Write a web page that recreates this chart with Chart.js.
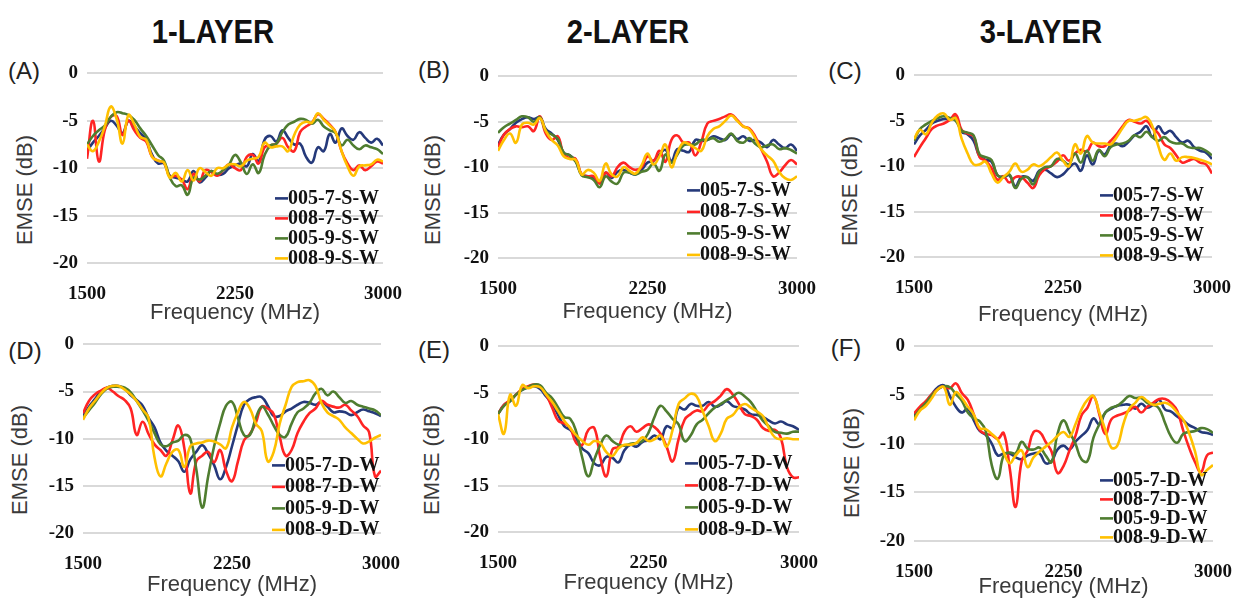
<!DOCTYPE html>
<html>
<head>
<meta charset="utf-8">
<script src="https://cdn.jsdelivr.net/npm/chart.js@4.4.1/dist/chart.umd.min.js"></script>
<style>
  body { margin: 0; width: 1239px; height: 601px; overflow: hidden; background: #fff; position: relative;
         font-family: "Liberation Sans", Arial, sans-serif; }
  .hdr { position: absolute; font: bold 34px "Liberation Sans", Arial, sans-serif;
         color: #111; transform: translate(-50%, -50%) scaleX(0.86); white-space: nowrap; }
  .tag { position: absolute; font-size: 24px; color: #222; transform: translate(-50%, -50%); }
  .ytitle { position: absolute; font-size: 22px; color: #3a3a3a; white-space: nowrap;
            transform: translate(-50%, -50%) rotate(-90deg); }
  canvas { position: absolute; }
</style>
</head>
<body>
<div class="hdr" style="left:213px;top:31px">1-LAYER</div>
<div class="hdr" style="left:628px;top:31px">2-LAYER</div>
<div class="hdr" style="left:1041px;top:31px">3-LAYER</div>

<div class="tag" style="left:24px;top:71px">(A)</div>
<div class="tag" style="left:434px;top:70px">(B)</div>
<div class="tag" style="left:845px;top:71px">(C)</div>
<div class="tag" style="left:25px;top:351px">(D)</div>
<div class="tag" style="left:434px;top:350px">(E)</div>
<div class="tag" style="left:846px;top:348px">(F)</div>

<div class="ytitle" style="left:25px;top:190px">EMSE (dB)</div>
<div class="ytitle" style="left:433px;top:190px">EMSE (dB)</div>
<div class="ytitle" style="left:850px;top:191px">EMSE (dB)</div>
<div class="ytitle" style="left:20px;top:460px">EMSE (dB)</div>
<div class="ytitle" style="left:432px;top:460px">EMSE (dB)</div>
<div class="ytitle" style="left:852px;top:463px">EMSE (dB)</div>

<script>
// frequency points (MHz)
const FREQ = [1500,1530,1560,1590,1620,1650,1680,1710,1740,1770,
  1800,1830,1860,1890,1920,1950,1980,2010,2040,2070,
  2100,2130,2160,2190,2220,2250,2280,2310,2340,2370,
  2400,2430,2460,2490,2520,2550,2580,2610,2640,2670,
  2700,2730,2760,2790,2820,2850,2880,2910,2940,2970,3000];

const LABELS_S = ["005-7-S-W", "008-7-S-W", "005-9-S-W", "008-9-S-W"];
const LABELS_D = ["005-7-D-W", "008-7-D-W", "005-9-D-W", "008-9-D-W"];
const COLORS = ["#25397a", "#ff2424", "#4f7d30", "#ffc000"];

// (A) 1-layer, S-W
const A_005_7 = [-8.2,-7.3,-6.6,-5.8,-5.0,-5.5,-6.3,-5.0,-5.6,-6.3, -7.0,-8.6,-9.5,-9.5,-10.8,-11.0,-11.2,-11.4,-10.3,-11.5,
  -11.0,-10.3,-10.7,-10.6,-10.0,-9.7,-9.5,-9.8,-8.5,-9.3, -7.0,-6.6,-7.2,-6.0,-6.8,-7.5,-7.4,-8.8,-9.4,-7.8,
  -8.2,-6.4,-7.3,-5.8,-6.6,-7.0,-6.2,-6.8,-7.3,-6.9, -7.6];
const A_008_7 = [-9.0,-5.0,-9.3,-6.0,-4.6,-4.5,-6.5,-5.0,-6.0,-6.8, -7.2,-8.8,-9.2,-9.4,-10.9,-10.8,-11.2,-12.2,-10.6,-11.4,
  -10.2,-10.4,-10.8,-10.2,-9.6,-10.0,-10.2,-8.8,-8.6,-9.5, -7.8,-7.6,-7.4,-6.8,-7.8,-8.2,-6.2,-5.6,-5.2,-4.3,
  -4.8,-5.4,-6.2,-8.2,-9.5,-10.2,-9.7,-10.2,-9.8,-9.3, -9.5];
const A_005_9 = [-7.5,-6.6,-6.0,-5.5,-4.6,-4.1,-4.2,-4.4,-4.9,-5.8, -6.6,-7.6,-8.6,-9.2,-11.0,-11.9,-11.8,-12.8,-11.0,-11.2,
  -10.8,-10.3,-10.6,-10.2,-9.6,-8.6,-9.4,-10.6,-9.6,-10.5, -8.6,-7.6,-7.4,-6.2,-5.4,-5.1,-4.8,-4.9,-5.3,-4.9,
  -5.6,-6.0,-6.3,-7.6,-7.0,-7.6,-8.0,-7.6,-7.8,-8.0, -8.5];
const A_008_9 = [-7.5,-8.2,-7.2,-5.6,-3.5,-4.8,-7.4,-4.4,-5.4,-6.7, -7.0,-8.8,-9.2,-9.4,-11.0,-10.5,-11.4,-10.2,-11.3,-10.0,
  -10.4,-10.8,-10.0,-10.0,-9.6,-9.6,-9.8,-9.2,-9.0,-8.8, -7.3,-7.8,-7.7,-7.7,-8.2,-6.5,-5.4,-5.1,-5.2,-4.2,
  -4.9,-5.5,-6.2,-8.2,-9.8,-10.8,-9.8,-9.7,-9.6,-9.1, -9.3];

// (B) 2-layer, S-W
const B_005_7 = [-7.5,-6.4,-5.8,-5.1,-4.7,-4.5,-4.7,-4.5,-5.8,-6.3, -7.0,-8.4,-8.7,-9.3,-10.8,-11.0,-11.2,-11.6,-10.6,-11.2,
  -10.5,-10.3,-10.6,-10.8,-10.3,-9.5,-9.3,-8.6,-8.1,-9.3, -8.0,-8.2,-8.3,-7.0,-7.1,-7.0,-6.6,-6.8,-7.0,-6.4,
  -6.9,-6.6,-7.1,-7.0,-7.3,-7.8,-7.0,-7.5,-7.9,-7.5, -8.2];
const B_008_7 = [-7.8,-6.4,-5.8,-5.5,-5.6,-5.5,-6.0,-4.4,-6.3,-7.0, -6.6,-8.6,-9.0,-9.1,-10.8,-11.0,-11.0,-11.8,-10.6,-11.0,
  -10.0,-9.5,-10.0,-10.3,-10.0,-8.8,-9.3,-8.2,-9.4,-7.0, -6.5,-7.3,-7.3,-8.7,-7.2,-5.2,-4.9,-4.7,-4.4,-4.2,
  -4.8,-5.5,-5.7,-6.6,-8.0,-9.4,-11.0,-10.6,-9.8,-9.2, -9.7];
const B_005_9 = [-6.2,-5.6,-5.2,-4.8,-4.4,-4.5,-5.0,-4.5,-6.0,-6.4, -6.9,-8.4,-8.7,-9.4,-10.9,-11.1,-11.4,-12.2,-11.0,-11.6,
  -11.8,-10.6,-10.6,-10.8,-10.5,-10.3,-9.6,-10.4,-8.6,-9.5, -8.6,-7.6,-7.5,-7.5,-7.0,-7.0,-6.8,-7.2,-6.9,-6.3,
  -7.1,-7.3,-6.8,-7.4,-7.8,-7.6,-7.5,-8.0,-7.9,-8.1, -8.5];
const B_008_9 = [-8.2,-7.0,-6.3,-7.3,-5.3,-5.1,-5.3,-4.6,-6.0,-7.0, -7.6,-8.8,-9.1,-9.2,-10.8,-10.3,-10.6,-11.5,-9.6,-10.8,
  -11.0,-10.0,-10.4,-10.7,-9.8,-8.5,-9.7,-8.8,-7.5,-10.0, -8.4,-7.3,-7.5,-7.9,-8.2,-6.6,-5.8,-5.5,-4.9,-4.3,
  -4.9,-5.5,-5.8,-6.8,-8.0,-8.7,-9.3,-10.5,-11.2,-11.4, -11.0];

// (C) 3-layer, S-W
const C_005_7 = [-7.6,-6.6,-6.0,-5.3,-5.0,-4.8,-4.8,-4.6,-6.2,-6.5, -7.2,-8.9,-9.3,-9.5,-11.0,-11.2,-11.0,-12.2,-11.2,-11.2,
  -11.6,-10.5,-10.4,-10.8,-11.2,-10.9,-10.2,-9.7,-10.5,-8.8, -9.8,-8.3,-8.7,-7.7,-7.5,-7.8,-7.3,-6.6,-6.2,-5.6,
  -6.8,-5.6,-6.4,-6.1,-6.8,-7.4,-7.2,-7.9,-8.3,-8.5, -9.2];
const C_008_7 = [-9.0,-7.9,-6.9,-5.9,-5.5,-5.3,-4.9,-4.3,-6.0,-6.4, -6.7,-9.0,-9.4,-10.2,-11.5,-11.1,-11.8,-11.2,-11.2,-11.8,
  -12.4,-11.0,-10.3,-10.0,-9.5,-8.8,-9.4,-8.6,-8.2,-8.4, -7.4,-7.8,-7.8,-7.2,-6.5,-5.6,-4.9,-5.1,-5.3,-5.0,
  -5.8,-6.4,-7.6,-8.0,-8.8,-9.6,-9.4,-9.2,-9.6,-9.8, -10.8];
const C_005_9 = [-7.2,-5.9,-5.4,-5.0,-4.7,-4.5,-4.7,-5.0,-6.1,-6.3, -6.6,-8.7,-9.0,-9.3,-11.0,-11.2,-10.9,-12.4,-11.4,-11.2,
  -12.0,-10.6,-10.1,-10.0,-9.2,-9.4,-9.8,-8.6,-9.6,-8.3, -9.4,-8.2,-8.9,-7.9,-7.6,-7.5,-7.2,-6.6,-6.8,-6.2,
  -6.8,-7.2,-6.8,-7.3,-7.5,-7.5,-7.9,-8.0,-8.0,-8.3, -8.8];
const C_008_9 = [-7.0,-6.0,-6.5,-5.2,-4.4,-4.2,-4.9,-4.7,-7.0,-8.6, -9.8,-9.8,-9.5,-10.8,-11.8,-11.2,-10.6,-9.7,-10.6,-10.4,
  -9.8,-10.0,-9.6,-9.0,-8.5,-9.4,-10.0,-7.6,-8.6,-6.7, -7.4,-7.5,-7.5,-7.6,-6.8,-5.8,-5.0,-5.0,-4.8,-4.6,
  -5.6,-7.8,-9.3,-8.6,-9.4,-9.0,-9.0,-9.1,-9.3,-9.5, -9.8];

// (D) 1-layer, D-W
const D_005_7 = [-7.6,-6.6,-5.8,-5.0,-4.6,-4.4,-4.4,-4.7,-5.4,-5.9, -6.5,-7.8,-8.8,-10.4,-11.3,-11.8,-12.4,-13.5,-12.2,-11.4,
  -10.7,-11.6,-12.8,-14.3,-13.0,-10.8,-8.5,-6.4,-5.8,-5.6, -5.6,-6.5,-7.6,-7.6,-7.1,-6.8,-6.4,-6.1,-6.2,-6.4,
  -6.1,-6.6,-7.2,-7.1,-7.2,-7.5,-7.2,-6.9,-7.1,-7.3, -7.6];
const D_008_7 = [-7.3,-6.0,-5.3,-4.9,-4.6,-5.0,-5.5,-5.9,-6.8,-9.6, -8.2,-9.5,-10.6,-11.2,-11.8,-10.2,-8.6,-11.0,-15.8,-12.4,
  -11.8,-11.4,-12.5,-11.2,-13.4,-14.5,-12.4,-10.2,-9.5,-8.3, -6.6,-6.8,-7.4,-9.8,-11.8,-11.2,-9.4,-8.2,-7.3,-6.8,
  -6.0,-6.4,-6.6,-6.7,-6.4,-7.0,-7.6,-8.6,-9.3,-14.0, -13.4];
const D_005_9 = [-7.8,-7.0,-6.2,-5.3,-4.7,-4.5,-4.5,-4.6,-5.1,-6.0, -7.0,-8.1,-9.4,-10.6,-10.8,-10.4,-10.2,-9.6,-10.0,-13.2,
  -17.3,-14.0,-10.8,-8.4,-6.5,-6.1,-7.8,-9.6,-9.6,-7.8, -6.6,-7.4,-8.6,-9.6,-9.8,-8.4,-7.2,-6.8,-6.2,-5.2,
  -4.7,-5.4,-5.0,-5.6,-6.2,-6.0,-6.4,-6.6,-6.8,-7.0, -7.5];
const D_008_9 = [-8.0,-6.8,-6.0,-5.2,-4.6,-4.4,-4.4,-4.8,-5.3,-6.0, -6.9,-7.8,-12.0,-14.0,-12.6,-11.4,-11.2,-13.0,-10.8,-10.5,
  -10.4,-10.2,-10.3,-10.6,-11.0,-8.8,-7.2,-6.1,-6.8,-8.4, -9.2,-12.4,-11.4,-8.4,-6.4,-4.5,-4.0,-3.9,-3.8,-4.4,
  -6.2,-7.2,-7.6,-8.0,-8.8,-9.4,-10.0,-10.5,-10.3,-9.9, -9.6];

// (E) 2-layer, D-W
const E_005_7 = [-7.3,-6.3,-5.9,-5.2,-4.7,-4.4,-4.3,-4.6,-5.4,-6.2, -7.4,-8.6,-9.0,-9.9,-11.0,-11.5,-12.6,-12.8,-11.9,-12.0,
  -12.5,-11.2,-10.6,-10.8,-10.3,-10.1,-9.6,-10.0,-8.6,-8.8, -6.6,-6.8,-6.2,-6.4,-6.4,-6.0,-6.5,-6.3,-5.9,-6.4,
  -6.6,-6.8,-7.3,-7.4,-7.6,-8.0,-8.3,-8.1,-8.4,-8.6, -9.0];
const E_008_7 = [-7.3,-6.3,-5.8,-5.2,-4.6,-4.3,-4.1,-4.3,-5.2,-6.6, -8.0,-8.3,-8.8,-10.4,-10.6,-9.0,-8.8,-12.0,-14.0,-11.1,
  -10.8,-9.2,-8.6,-9.2,-8.8,-8.4,-8.7,-9.4,-10.8,-12.4, -10.0,-7.9,-7.3,-6.9,-7.0,-6.3,-5.9,-5.3,-4.6,-5.2,
  -6.2,-7.3,-7.5,-7.9,-8.8,-9.1,-9.0,-9.9,-13.0,-14.1, -14.1];
const E_005_9 = [-7.3,-6.4,-5.9,-5.2,-4.7,-4.4,-4.1,-4.2,-5.0,-5.6, -6.6,-7.6,-7.8,-9.2,-12.0,-14.0,-12.2,-10.6,-9.6,-10.2,
  -10.6,-10.7,-10.5,-10.4,-10.2,-9.3,-7.6,-6.4,-7.0,-7.8, -8.4,-10.2,-9.6,-8.4,-7.9,-7.2,-6.6,-6.2,-5.8,-5.4,
  -5.0,-5.4,-6.0,-7.0,-8.0,-8.6,-9.2,-9.3,-9.4,-9.2, -9.2];
const E_008_9 = [-7.3,-9.4,-5.2,-6.4,-4.2,-4.5,-4.3,-4.4,-5.2,-6.0, -7.0,-8.0,-8.8,-9.6,-10.2,-10.6,-10.2,-10.4,-11.4,-11.8,
  -11.0,-10.6,-10.6,-10.4,-9.8,-10.2,-10.0,-9.6,-10.8,-9.0, -6.2,-5.6,-5.1,-5.4,-7.0,-8.6,-10.2,-9.4,-7.8,-7.4,
  -6.6,-6.2,-6.6,-7.0,-7.5,-8.8,-9.8,-10.0,-9.9,-10.0, -10.0];

// (F) 3-layer, D-W
const F_005_7 = [-7.1,-6.4,-5.7,-4.9,-4.2,-4.0,-5.1,-6.2,-6.8,-6.4, -7.6,-8.7,-9.1,-10.0,-11.2,-11.0,-11.0,-11.4,-11.6,-11.2,
  -11.0,-11.0,-12.0,-11.8,-10.6,-10.2,-10.6,-9.8,-9.2,-8.6, -7.4,-8.0,-6.8,-6.4,-6.1,-6.0,-6.0,-6.4,-5.9,-6.3,
  -6.0,-5.5,-6.5,-6.7,-7.2,-7.6,-8.1,-8.4,-8.8,-8.9, -9.1];
const F_008_7 = [-6.9,-6.2,-5.6,-4.9,-4.4,-4.1,-4.3,-3.8,-4.8,-5.5, -7.0,-8.6,-9.0,-9.1,-9.5,-8.9,-12.5,-16.5,-11.8,-10.7,
  -8.8,-8.8,-9.8,-10.8,-13.0,-12.3,-10.7,-9.2,-7.1,-6.3, -5.1,-7.0,-9.0,-7.5,-7.1,-6.9,-6.6,-6.2,-6.8,-6.2,
  -5.8,-5.4,-5.4,-5.8,-6.6,-8.6,-10.4,-11.9,-12.9,-11.2, -10.9];
const F_005_9 = [-7.3,-6.5,-5.8,-5.0,-4.4,-4.1,-4.2,-4.9,-5.6,-6.8, -7.4,-7.7,-8.7,-12.2,-13.6,-11.2,-10.9,-11.0,-9.8,-10.5,
  -10.6,-10.4,-11.2,-11.9,-9.0,-7.6,-8.8,-10.0,-11.6,-11.8, -9.4,-8.0,-6.8,-6.3,-6.1,-5.6,-5.1,-5.3,-5.3,-5.8,
  -6.0,-6.4,-7.9,-9.3,-9.9,-9.0,-8.8,-8.7,-8.4,-8.5, -8.9];
const F_008_9 = [-7.6,-6.6,-6.1,-5.3,-4.4,-4.2,-6.0,-4.7,-5.3,-6.2, -7.0,-8.4,-8.5,-9.0,-9.6,-10.9,-12.0,-11.2,-10.7,-12.4,
  -11.4,-10.8,-10.3,-9.8,-9.2,-8.8,-9.3,-8.0,-6.5,-5.5, -5.1,-6.8,-8.6,-10.4,-10.2,-8.0,-6.4,-5.8,-5.2,-5.6,
  -6.0,-5.9,-5.8,-6.1,-6.8,-7.5,-8.9,-10.8,-13.2,-12.7, -12.2];

// plot area of every panel [left, top, right, bottom], height of the x axis block,
// legend offset from the plot corner and row spacing
const PANELS = [
  { area: [87, 68, 389, 263],   xh: 63, legend: [188, 125, 20],   labels: LABELS_S, series: [A_005_7, A_008_7, A_005_9, A_008_9] },
  { area: [498, 71, 803, 258],  xh: 67, legend: [189, 114, 21.5], labels: LABELS_S, series: [B_005_7, B_008_7, B_005_9, B_008_9] },
  { area: [914, 70, 1218, 257], xh: 71, legend: [186, 120, 20],   labels: LABELS_S, series: [C_005_7, C_008_7, C_005_9, C_008_9] },
  { area: [83, 339, 387, 533],  xh: 65, legend: [189, 121, 21.5], labels: LABELS_D, series: [D_005_7, D_008_7, D_005_9, D_008_9] },
  { area: [498, 341, 805, 532], xh: 64, legend: [187, 117, 22],   labels: LABELS_D, series: [E_005_7, E_008_7, E_005_9, E_008_9] },
  { area: [914, 341, 1219, 541], xh: 59, legend: [186, 134, 19],  labels: LABELS_D, series: [F_005_7, F_008_7, F_005_9, F_008_9] },
];

const Y_W = 60, PAD_T = 15, PAD_R = 25;
const TICK_FONT = { family: '"Liberation Serif", "Times New Roman", serif', weight: "bold", size: 19 };

// legend drawn inside the plot area, short coloured dash + bold label
const inLegend = {
  id: "inLegend",
  afterDatasetsDraw(chart, args, opts) {
    const { ctx, chartArea } = chart;
    ctx.save();
    ctx.font = 'bold 20px "Liberation Serif", "Times New Roman", serif';
    ctx.textBaseline = "middle";
    chart.data.datasets.forEach((ds, k) => {
      const x = chartArea.left + opts.x;
      const y = chartArea.top + opts.y + k * opts.gap;
      ctx.strokeStyle = ds.borderColor;
      ctx.lineWidth = 2.6;
      ctx.beginPath();
      ctx.moveTo(x, y);
      ctx.lineTo(x + 13, y);
      ctx.stroke();
      ctx.fillStyle = "#111";
      ctx.fillText(ds.label, x + 13, y);
    });
    ctx.restore();
  }
};

PANELS.forEach((p) => {
  const [l, t, r, b] = p.area;
  const cv = document.createElement("canvas");
  cv.width = (r - l) + Y_W + PAD_R;
  cv.height = (b - t) + PAD_T + p.xh;
  cv.style.left = (l - Y_W) + "px";
  cv.style.top = (t - PAD_T) + "px";
  document.body.appendChild(cv);

  new Chart(cv.getContext("2d"), {
    type: "line",
    data: {
      datasets: p.series.map((vals, k) => ({
        label: p.labels[k],
        data: FREQ.map((f, i) => ({ x: f, y: vals[i] })),
        borderColor: COLORS[k],
        borderWidth: 2.6,
        pointRadius: 0,
        tension: 0.45,
        fill: false,
        order: 4 - k
      }))
    },
    options: {
      responsive: false,
      animation: false,
      devicePixelRatio: 1,
      layout: { padding: { top: PAD_T, right: PAD_R, left: 0, bottom: 0 } },
      plugins: {
        legend: { display: false },
        tooltip: { enabled: false },
        inLegend: { x: p.legend[0], y: p.legend[1], gap: p.legend[2] }
      },
      scales: {
        x: {
          type: "linear",
          min: 1500,
          max: 3000,
          afterFit: (s) => { s.height = p.xh; },
          grid: { display: false },
          border: { display: false },
          ticks: { stepSize: 750, padding: 12, color: "#111", font: TICK_FONT, maxRotation: 0,
                   autoSkip: false, callback: (v) => String(v) },
          title: { display: true, text: "Frequency (MHz)", color: "#3a3a3a", padding: 0,
                   font: { family: '"Liberation Sans", Arial, sans-serif', size: 22 } }
        },
        y: {
          min: -20,
          max: 0,
          afterFit: (s) => { s.width = Y_W; },
          grid: { color: "#d9d9d9", lineWidth: 2, drawTicks: false },
          border: { display: false },
          ticks: { stepSize: 5, padding: 9, color: "#111", font: TICK_FONT }
        }
      }
    },
    plugins: [inLegend]
  });
});
</script>
</body>
</html>
